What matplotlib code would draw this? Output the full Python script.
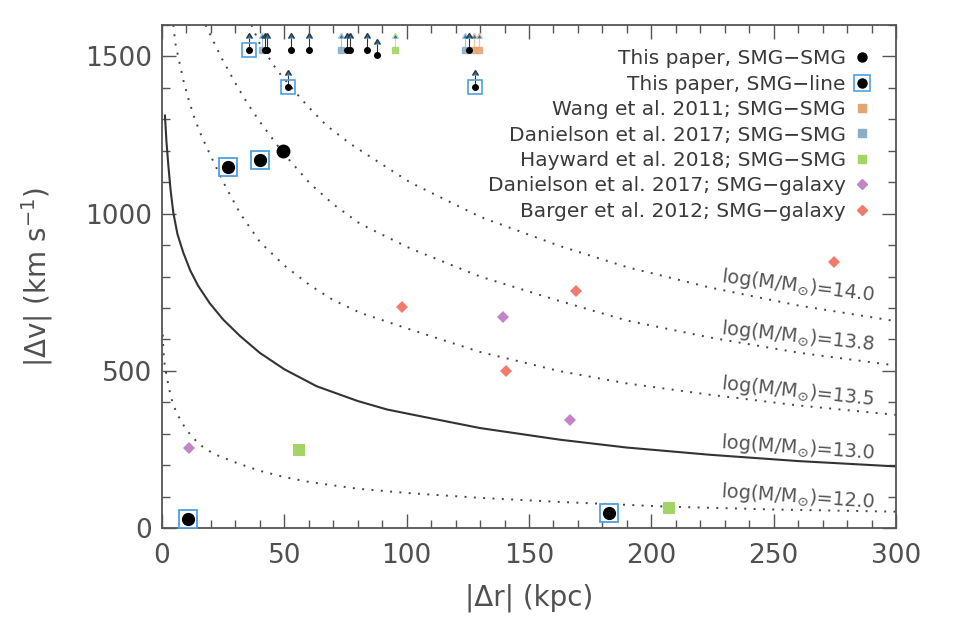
import matplotlib
matplotlib.use("Agg")
import matplotlib.pyplot as plt
from matplotlib.lines import Line2D
from matplotlib.legend_handler import HandlerTuple
from matplotlib.ticker import MultipleLocator

# --- halo mass curves: |dr| (kpc), |dv| (km/s)
r_120 = [0.3, 0.6, 1.0, 1.9, 3.0, 4.0, 5.5, 7.4, 9.5, 12.0, 15.0, 18.3, 22.4, 30.5, 40.0,
         50.0, 60.5, 80.0, 101.0, 130.0, 162.6, 207.0, 250.0, 300.0]
v_120 = [615, 560, 525, 483, 440, 408, 375, 345, 318, 293, 268, 249, 232, 207, 182,
         162, 146, 125, 111, 96, 83, 68, 59, 52]

r_130 = [1.2, 1.8, 2.6, 3.5, 4.6, 6.3, 8.7, 11.5, 14.8, 19.5, 25.0, 32.0, 40.0, 50.0,
         63.2, 80.0, 92.0, 105.4, 130.0, 162.6, 190.0, 224.0, 260.0, 300.0]
v_130 = [1312, 1230, 1152, 1075, 1004, 935, 876, 820, 770, 715, 663, 610, 557, 505,
         451, 404, 377, 356, 318, 281, 256, 233, 213, 196]

r_135 = [4.6, 5.5, 7.4, 9.0, 10.8, 13.0, 15.5, 18.0, 20.5, 23.5, 26.4, 32.0, 40.0, 50.0,
         60.5, 70.0, 80.9, 101.3, 130.0, 162.6, 190.0, 224.0, 260.0, 300.0]
v_135 = [1600, 1540, 1471, 1415, 1365, 1310, 1259, 1215, 1174, 1125, 1080, 1000, 910, 835,
         772, 725, 685, 632, 560, 499, 460, 424, 390, 360]

r_138 = [17.8, 20.0, 24.0, 30.5, 35.0, 40.0, 49.6, 60.5, 70.0, 80.9, 101.3, 130.0, 162.6,
         190.0, 224.0, 260.0, 300.0]
v_138 = [1600, 1565, 1500, 1408, 1350, 1292, 1192, 1096, 1030, 968, 890, 800, 722,
         660, 606, 558, 517]

r_140 = [36.5, 40.0, 46.9, 55.0, 60.0, 67.3, 77.0, 87.7, 101.3, 130.0, 162.6, 190.0,
         224.0, 260.0, 300.0]
v_140 = [1600, 1540, 1457, 1382, 1338, 1280, 1222, 1168, 1100, 990, 897, 830,
         765, 708, 658]

curve_labels = ['12.0', '13.0', '13.5', '13.8', '14.0']

# --- measured pairs
smg_smg_r = [49.3]
smg_smg_v = [1200]
smg_smg_lim_r = [42.1, 43.0, 52.7, 60.2, 75.5, 76.8, 83.6, 88.0, 125.6]
smg_smg_lim_v = [1522, 1522, 1522, 1522, 1522, 1522, 1522, 1504, 1522]

smg_line_r = [10.8, 26.8, 40.0, 182.7]
smg_line_v = [29, 1149, 1170, 49]
smg_line_lim_r = [35.6, 51.4, 127.9]
smg_line_lim_v = [1522, 1404, 1404]

wang_lim_r = [127.7, 129.4]
wang_lim_v = [1522, 1522]

dan_smg_lim_r = [40.7, 73.2, 123.8]
dan_smg_lim_v = [1522, 1522, 1522]

hay_r = [55.9, 207.3]
hay_v = [249, 63]
hay_lim_r = [95.2]
hay_lim_v = [1522]

dan_gal_r = [11.2, 139.5, 166.7]
dan_gal_v = [254, 671, 345]

bar_r = [98.1, 140.4, 169.1, 274.6]
bar_v = [703, 501, 754, 845]

# colores
c_box = '#4f9fe3'
c_wang = '#e3a574'
c_dan = '#8aaec8'
c_hay = '#a5d466'
c_pur = '#c484c8'
c_bar = '#f27a6c'
c_txt = '#3a3a3a'
c_axis = '#555555'

fig = plt.figure(figsize=(9.57, 6.26), dpi=100)
ax = fig.add_axes([0.1693, 0.1565, 0.767, 0.8035])

dots = (0, (1.0, 3.8))
ax.plot(r_120, v_120, color='#444444', lw=1.4, ls=dots, zorder=2)
ax.plot(r_130, v_130, color='#333333', lw=1.5, ls='-', zorder=2)
ax.plot(r_135, v_135, color='#444444', lw=1.4, ls=dots, zorder=2)
ax.plot(r_138, v_138, color='#444444', lw=1.4, ls=dots, zorder=2)
ax.plot(r_140, v_140, color='#444444', lw=1.4, ls=dots, zorder=2)

# etiquetas de las curvas (x, y, rotación)
label_pos = [(260, 99, -4), (260, 255, -4), (260, 434, -6), (260, 609, -6), (260, 769, -7)]
for lab, (lx, ly, rot) in zip(curve_labels, label_pos):
    ax.text(lx, ly, r'log(M/M$_{\odot}$)=' + lab, fontsize=13.8, color='#555555',
            ha='center', va='center', rotation=rot, rotation_mode='anchor', zorder=3)

# límites inferiores (flechas)
def lower_limits(r, v, col):
    ax.errorbar(r, v, yerr=36, lolims=True, fmt='none', ecolor=col,
                elinewidth=0.8, capsize=2.5, zorder=3)

lower_limits(dan_smg_lim_r, dan_smg_lim_v, '#a9c2d6')
lower_limits(wang_lim_r, wang_lim_v, '#ecc2a0')
lower_limits(hay_lim_r, hay_lim_v, '#c6e3a0')
lower_limits(smg_smg_lim_r, smg_smg_lim_v, '#333333')
lower_limits(smg_line_lim_r, smg_line_lim_v, '#333333')

ax.plot(dan_smg_lim_r, dan_smg_lim_v, 's', color=c_dan, ms=5, alpha=0.85, zorder=4)
ax.plot(wang_lim_r, wang_lim_v, 's', color=c_wang, ms=5, alpha=0.85, zorder=4)
ax.plot(hay_lim_r, hay_lim_v, 's', color=c_hay, ms=5, alpha=0.85, zorder=4)
ax.plot(smg_line_lim_r, smg_line_lim_v, 's', mfc='none', mec=c_box, mew=1.2, ms=9.5, zorder=4)
ax.plot(smg_line_lim_r, smg_line_lim_v, 'o', color='black', ms=4, zorder=5)
ax.plot(smg_smg_lim_r, smg_smg_lim_v, 'o', color='black', ms=4, zorder=5)

# detecciones
ax.plot(hay_r, hay_v, 's', color=c_hay, ms=8.5, mew=0, zorder=4)
ax.plot(dan_gal_r, dan_gal_v, 'D', color=c_pur, ms=6.5, mew=0, zorder=4)
ax.plot(bar_r, bar_v, 'D', color=c_bar, ms=6.5, mew=0, zorder=4)
ax.plot(smg_line_r, smg_line_v, 's', mfc='white', mec=c_box, mew=1.3, ms=13.5, zorder=4)
ax.plot(smg_line_r, smg_line_v, 'o', color='black', ms=8.5, zorder=5)
ax.plot(smg_smg_r, smg_smg_v, 'o', color='black', ms=9, zorder=5)

ax.set_xlim(0, 300)
ax.set_ylim(0, 1600)
ax.xaxis.set_major_locator(MultipleLocator(50))
ax.xaxis.set_minor_locator(MultipleLocator(10))
ax.yaxis.set_major_locator(MultipleLocator(500))
ax.yaxis.set_minor_locator(MultipleLocator(100))
ax.tick_params(which='both', direction='in', top=True, right=True, color=c_axis, width=1.0)
ax.tick_params(which='major', length=10)
ax.tick_params(which='minor', length=5.5)
ax.tick_params(axis='x', labelsize=19, labelcolor='#505050', pad=11)
ax.tick_params(axis='y', labelsize=19, labelcolor='#505050', pad=7)
for sp in ax.spines.values():
    sp.set_color(c_axis)
    sp.set_linewidth(1.3)

ax.set_xlabel('|Δr| (kpc)', fontsize=20, color='#505050', labelpad=10)
ax.set_ylabel(r'|Δv| (km s$^{-1}$)', fontsize=20, color='#505050', labelpad=22)

# leyenda
h1 = Line2D([], [], ls='none', marker='o', color='black', ms=6.5)
h2 = (Line2D([], [], ls='none', marker='s', mfc='white', mec=c_box, mew=1.2, ms=11),
      Line2D([], [], ls='none', marker='o', color='black', ms=6.5))
h3 = Line2D([], [], ls='none', marker='s', color=c_wang, ms=5.5)
h4 = Line2D([], [], ls='none', marker='s', color=c_dan, ms=5.5)
h5 = Line2D([], [], ls='none', marker='s', color=c_hay, ms=5.5)
h6 = Line2D([], [], ls='none', marker='D', color=c_pur, ms=5.5)
h7 = Line2D([], [], ls='none', marker='D', color=c_bar, ms=5.5)
labels = ['This paper, SMG−SMG', 'This paper, SMG−line', 'Wang et al. 2011; SMG−SMG',
          'Danielson et al. 2017; SMG−SMG', 'Hayward et al. 2018; SMG−SMG',
          'Danielson et al. 2017; SMG−galaxy', 'Barger et al. 2012; SMG−galaxy']
leg = ax.legend([h1, h2, h3, h4, h5, h6, h7], labels, loc='upper right', frameon=False,
                markerfirst=False, fontsize=14.5, handlelength=1.0, handletextpad=0.3,
                labelspacing=0.32, borderaxespad=0.8, borderpad=0.4,
                handler_map={tuple: HandlerTuple(ndivide=1)})
for t in leg.get_texts():
    t.set_color(c_txt)

fig.savefig('out.png', dpi=100)
